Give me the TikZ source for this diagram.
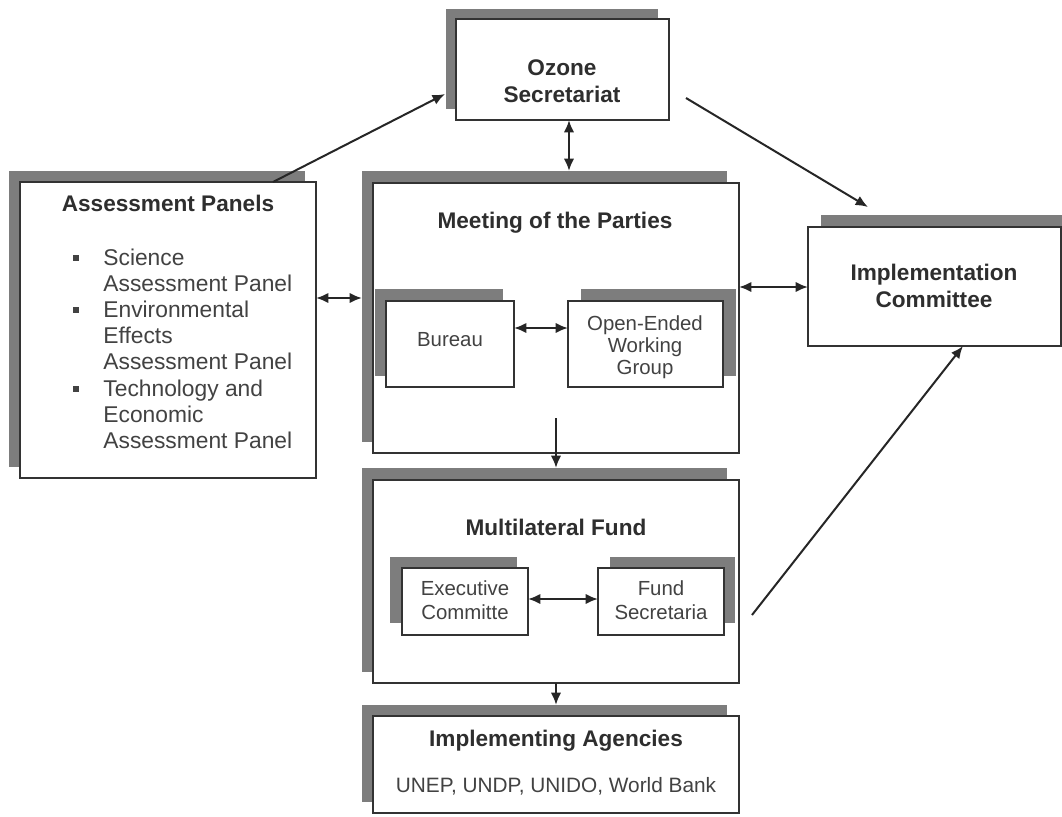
\documentclass[tikz,border=0pt]{standalone}
\usepackage{fontspec}
\setmainfont{Liberation Sans}
\usetikzlibrary{arrows.meta,calc,fit}
\newdimen\px \px=0.5pt
\definecolor{edge}{HTML}{333333}
\definecolor{shade}{HTML}{7D7D7D}
\definecolor{ink}{HTML}{2E2E2E}
\definecolor{inkb}{HTML}{424242}
% name, x1, y1, x2, y2, shadow x1, y1, x2, y2
\newcommand\panel[9]{%
  \node[shadowbox, fit={(#6,#7) (#8,#9)}] (#1s) {};
  \node[frame, fit={(#2,#3) (#4,#5)}] (#1) {};}
\begin{document}
\begin{tikzpicture}[x=0.5pt,y=-0.5pt,
  frame/.style={draw=edge, line width=1.1pt, fill=white, inner sep=0pt, outer sep=0pt},
  shadowbox/.style={fill=shade, inner sep=0pt, outer sep=0pt},
  head/.style={text=ink, font=\fontsize{11.3}{13}\selectfont\bfseries, inner sep=0pt, anchor=base},
  body/.style={text=inkb, font=\fontsize{11.4}{13}\selectfont, inner sep=0pt, anchor=base west},
  small/.style={text=inkb, font=\fontsize{10.2}{11}\selectfont, inner sep=0pt, anchor=base},
  sub/.style={text=inkb, font=\fontsize{10.4}{12}\selectfont, inner sep=0pt, anchor=base},
  tip/.tip={Latex[length=6.2pt,width=5.2pt]},
  arr/.style={draw=black!85, line width=1pt, -tip},
  darr/.style={draw=black!85, line width=1pt, tip-tip},
  bul/.style={fill=inkb, minimum size=2.8pt, inner sep=0pt, outer sep=0pt}
]
\clip (0,0) rectangle (1062,816);
\fill[white] (0,0) rectangle (1062,816);

\panel{ozone}{456}{19}{669}{120}{446}{9}{658}{109}
\panel{assess}{20}{182}{316}{478}{9}{171}{305}{467}
\panel{meet}{373}{183}{739}{453}{362}{171}{727}{442}
\panel{bureau}{386}{301}{514}{387}{375}{289}{503}{376}
\panel{oewg}{568}{301}{723}{387}{581}{289}{736}{376}
\panel{mlf}{373}{480}{739}{683}{362}{468}{727}{672}
\panel{exec}{402}{568}{528}{635}{390}{557}{517}{623}
\panel{fund}{598}{568}{724}{635}{610}{557}{735}{623}
\panel{ia}{373}{716}{739}{813}{362}{705}{727}{802}
\panel{impl}{808}{227}{1061}{346}{821}{215}{1075}{335}

% texts
\node[head] (t-oz1) at (562,75) {Ozone};
\node[head] (t-oz2) at (562,102) {Secretariat};
\node[head] (t-ap) at (168,211) {Assessment Panels};
\foreach \t [count=\i] in {Science,Assessment Panel,Environmental,Effects,Assessment Panel,Technology and,Economic,Assessment Panel}
  \node[body] (t-ap\i) at (103,{265+26.2*(\i-1)}) {\t};
\node[bul] (b1) at (76,258) {};
\node[bul] (b2) at (76,310) {};
\node[bul] (b3) at (76,389) {};
\node[head] (t-mp) at (555,228) {Meeting of the Parties};
\node[small] (t-bu) at (450,346) {Bureau};
\node[small] (t-oe1) at (645,330) {Open-Ended};
\node[small] (t-oe2) at (645,352) {Working};
\node[small] (t-oe3) at (645,374) {Group};
\node[head] (t-mf) at (556,535) {Multilateral Fund};
\node[small] (t-ex1) at (465,595) {Executive};
\node[small] (t-ex2) at (465,619) {Committe};
\node[small] (t-fs1) at (661,595) {Fund};
\node[small] (t-fs2) at (661,619) {Secretaria};
\node[head] (t-ia) at (556,746) {Implementing Agencies};
\node[sub] (t-ia2) at (556,792) {UNEP, UNDP, UNIDO, World Bank};
\node[head] (t-ic1) at (934,280) {Implementation};
\node[head] (t-ic2) at (934,307) {Committee};

% connector helper coordinates
\coordinate (apN) at (273,182);
\coordinate (ozIn) at (445,94);
\coordinate (ozR) at (686,98);
\coordinate (imT) at (868,207);
\coordinate (mx) at (569,0);
\coordinate (r0) at (0,298);
\coordinate (r1) at (0,287);
\coordinate (r2) at (0,328);
\coordinate (r3) at (0,599);
\coordinate (c7) at (556,418);
\coordinate (c10) at (752,615);
\coordinate (c10b) at (963,0);

\draw[arr] (apN) -- (ozIn);
\draw[darr] (ozone.south -| mx) -- (meets.north -| mx);
\draw[arr] (ozR) -- (imT);
\draw[darr] (assess.east |- r0) -- (meets.west |- r0);
\draw[darr] (meet.east |- r1) -- (impl.west |- r1);
\draw[darr] (bureau.east |- r2) -- (oewg.west |- r2);
\draw[arr] (c7) -- (mlfs.north -| c7);
\draw[darr] (exec.east |- r3) -- (fund.west |- r3);
\draw[arr] (mlf.south -| c7) -- (ias.north -| c7);
\draw[arr] (c10) -- (impl.south -| c10b);
\end{tikzpicture}
\end{document}
